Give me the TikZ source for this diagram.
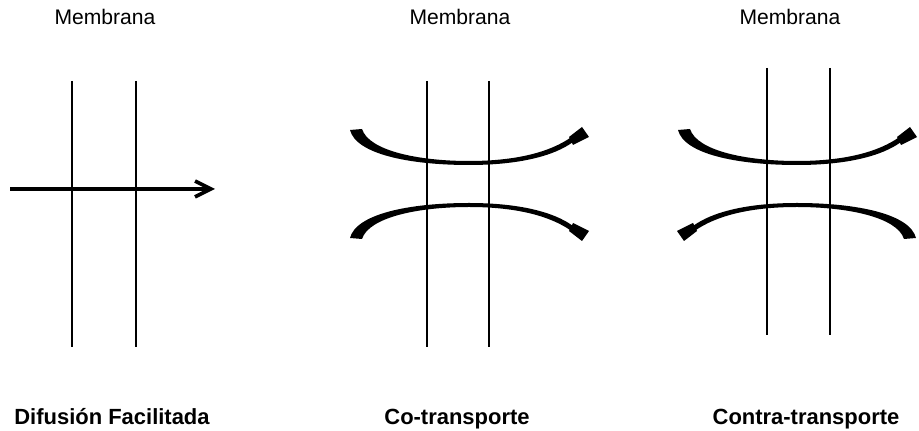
\documentclass[tikz,border=0pt]{standalone}
\usepackage{fontspec}
\setmainfont{Liberation Sans}
\usepackage{tikz}
\usetikzlibrary{arrows.meta}

% tapered bent arrow, tail on the left, head on the right
\newcommand{\bentarrow}{%
  \fill (-119,-54) .. controls (-113,-30) and (-60,-19) .. (0,-19)
    .. controls (50,-19) and (85,-28) .. (104,-42)
    -- (101,-46) .. controls (82,-33) and (50,-23) .. (0,-23)
    .. controls (-50,-23) and (-100,-33) .. (-107,-55) -- cycle;
  \fill (100,-47) -- (113,-57) -- (120,-47) -- (104,-39) -- cycle;}

\begin{document}
\begin{tikzpicture}[x=0.02cm,y=-0.02cm,font=\fontsize{12}{14}\selectfont,>={Straight Barb[length=9pt,width=9pt]}]
\tikzstyle{membrane}=[line width=1.1pt]
\tikzstyle{flow}=[line width=2.1pt]
\tikzstyle{title}=[anchor=base,inner sep=0pt]
\tikzstyle{label}=[anchor=base,inner sep=0pt,font=\fontsize{12.5}{14}\selectfont\bfseries]
\useasboundingbox (0,0) rectangle (919,431);
\node[title] (memA) at (105,25) {Membrana};
\node[title] (memB) at (460,25) {Membrana};
\node[title] (memC) at (790,25) {Membrana};
\foreach \x/\t/\b in {72/81/347,136/81/347,427/81/347,489/81/347,767/68/335,830/68/335}
  \draw[membrane] (\x,\t) -- (\x,\b);
\coordinate (inA) at (10,189);
\coordinate (outA) at (215,189);
\draw[flow,->] (inA) -- (outA);
% co-transporte
\begin{scope}[shift={(469,184)}]
  \bentarrow
\end{scope}
\begin{scope}[shift={(469,184)},yscale=-1]
  \bentarrow
\end{scope}
% contra-transporte
\begin{scope}[shift={(797,184)}]
  \bentarrow
\end{scope}
\begin{scope}[shift={(797,184)},rotate=180]
  \bentarrow
\end{scope}
\node[label] (difA) at (112,425) {Difusión Facilitada};
\node[label] (difB) at (457,425) {Co-transporte};
\node[label] (difC) at (806,425) {Contra-transporte};
\end{tikzpicture}
\end{document}
